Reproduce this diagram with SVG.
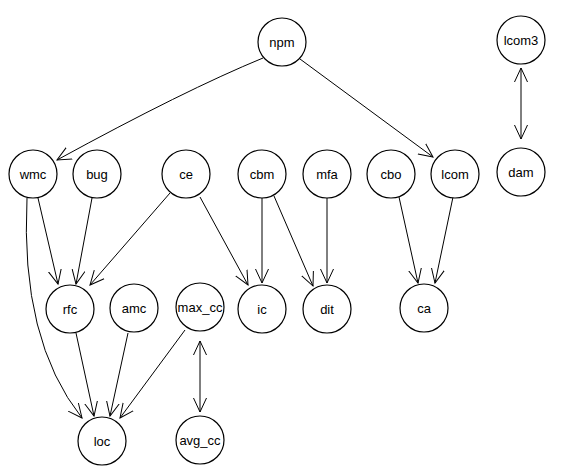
<svg xmlns="http://www.w3.org/2000/svg" width="580" height="470" viewBox="0 0 580 470">
<style>
.n circle{fill:#fff;stroke:#000;stroke-width:1.2}
.n text{font-family:"Liberation Sans",Arial,sans-serif;font-size:13px;fill:#000;text-anchor:middle;dominant-baseline:central}
#edges path{fill:none;stroke:#000;stroke-width:1;marker-end:url(#ah)}
#edges path.bi{marker-start:url(#ah)}
</style>
<defs>
<marker id="ah" markerUnits="userSpaceOnUse" markerWidth="18" markerHeight="18" refX="14" refY="8" orient="auto-start-reverse" viewBox="0 0 18 16">
<path d="M0,1.5 L14,8 L0,14.5" fill="none" stroke="#000" stroke-width="1"/>
</marker>
</defs>
<rect width="580" height="470" fill="#fff"/>
<g id="edges">
<path d="M263,58 Q185,90 57,160"/>
<path d="M300,59 L433,157"/>
<path class="bi" d="M521,68 L521,139"/>
<path d="M38,198 L58,284"/>
<path d="M27,198 Q20,340 82,418"/>
<path d="M92,198 L76,284"/>
<path d="M170,193 L90,285"/>
<path d="M200,197 L248,285"/>
<path d="M262,198 L262,283"/>
<path d="M274,196 L313,286"/>
<path d="M327,198 L327,283"/>
<path d="M399,197 L418,283"/>
<path d="M453,197 L435,283"/>
<path d="M76,333 L94,416"/>
<path d="M128,333 L110,416"/>
<path d="M185,330 L120,418"/>
<path class="bi" d="M200,341 L200,412"/>
</g>
<g id="npm" class="n"><circle cx="282" cy="42" r="24"/><text x="282" y="42">npm</text></g>
<g id="lcom3" class="n"><circle cx="521" cy="40" r="24"/><text x="521" y="40">lcom3</text></g>
<g id="wmc" class="n"><circle cx="33" cy="174" r="24"/><text x="33" y="174">wmc</text></g>
<g id="bug" class="n"><circle cx="97" cy="174" r="24"/><text x="97" y="174">bug</text></g>
<g id="ce" class="n"><circle cx="186" cy="174" r="24"/><text x="186" y="174">ce</text></g>
<g id="cbm" class="n"><circle cx="262" cy="174" r="24"/><text x="262" y="174">cbm</text></g>
<g id="mfa" class="n"><circle cx="327" cy="174" r="24"/><text x="327" y="174">mfa</text></g>
<g id="cbo" class="n"><circle cx="391" cy="174" r="24"/><text x="391" y="174">cbo</text></g>
<g id="lcom" class="n"><circle cx="455" cy="174" r="24"/><text x="455" y="174">lcom</text></g>
<g id="dam" class="n"><circle cx="521" cy="172" r="24"/><text x="521" y="172">dam</text></g>
<g id="rfc" class="n"><circle cx="70" cy="309" r="24"/><text x="70" y="309">rfc</text></g>
<g id="amc" class="n"><circle cx="134" cy="308" r="24"/><text x="134" y="308">amc</text></g>
<g id="max_cc" class="n"><circle cx="200" cy="307" r="24"/><text x="200" y="307">max_cc</text></g>
<g id="ic" class="n"><circle cx="262" cy="309" r="24"/><text x="262" y="309">ic</text></g>
<g id="dit" class="n"><circle cx="327" cy="309" r="24"/><text x="327" y="309">dit</text></g>
<g id="ca" class="n"><circle cx="424" cy="308" r="24"/><text x="424" y="308">ca</text></g>
<g id="loc" class="n"><circle cx="102" cy="441" r="24"/><text x="102" y="441">loc</text></g>
<g id="avg_cc" class="n"><circle cx="200" cy="440" r="24"/><text x="200" y="440">avg_cc</text></g>
</svg>
